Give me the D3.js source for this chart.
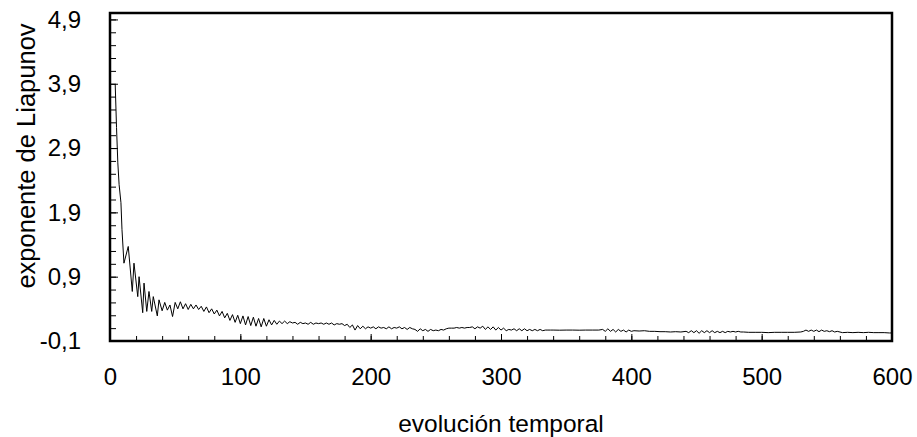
<!DOCTYPE HTML>
<html>
	<head>
		<title>Exponente de Liapunov</title>
		<script src="https://d3js.org/d3.v7.min.js"></script>
		<style>
			body { margin: 0; background: #fff; }
			svg { display: block; }
			text { font-family: "Liberation Sans", Arial, sans-serif; fill: #000; }
		</style>
	</head>
	<body>
		<svg id="viz" width="917" height="437"></svg>
		<script>
			// tick labels
			const xMajor = [0, 100, 200, 300, 400, 500, 600]
			const yMajor = [-0.1, 0.9, 1.9, 2.9, 3.9, 4.9]

			// [evolución temporal, exponente]
			const lyapunov = [
				[4, 3.89], [5, 3.22], [6, 2.67], [7, 2.33], [8.4, 2.05], [9.2, 1.63], [10.7, 1.11], [14, 1.37],
				[17.1, 0.67], [18.4, 1.11], [21.3, 0.59], [22.3, 0.9], [25.1, 0.34], [26.1, 0.8], [28.2, 0.36],
				[29.9, 0.67], [32, 0.36], [33.2, 0.59], [36.3, 0.29], [37.6, 0.54],
				[40,0.37],[42,0.5],[44,0.38],[46,0.46],[48,0.28],[50,0.5],[52,0.4],[54,0.51],[56,0.4],[58,0.48],
				[60,0.39],[62,0.47],[64,0.4],[66,0.46],[68,0.39],[70,0.44],[72,0.36],[74,0.43],[76,0.34],[78,0.4],
				[80,0.32],[82,0.38],[84,0.29],[86,0.36],[88,0.26],[90,0.33],[92,0.22],[94,0.31],[96,0.19],[98,0.3],
				[100,0.17],[102,0.29],[104,0.15],[106,0.28],[108,0.14],[110,0.27],[112,0.13],[114,0.25],[116,0.12],[118,0.25],
				[120,0.13],[122,0.23],[124,0.15],[126,0.22],[128,0.16],[130,0.21],[132,0.17],[134,0.21],[136,0.17],[138,0.2],
				[140,0.18],[142,0.19],[144,0.16],[146,0.19],[148,0.17],[150,0.18],[152,0.16],[154,0.19],[156,0.16],[158,0.18],
				[160,0.17],[162,0.18],[164,0.16],[166,0.18],[168,0.16],[170,0.18],[172,0.15],[174,0.17],[176,0.16],[178,0.17],
				[180,0.14],[182,0.16],[184,0.11],[186,0.15],[188,0.07],[190,0.14],[192,0.09],[194,0.13],[196,0.09],[198,0.12],
				[200,0.1],[202,0.12],[204,0.09],[206,0.12],[208,0.1],[210,0.11],[212,0.09],[214,0.12],[216,0.09],[218,0.11],
				[220,0.1],[222,0.12],[224,0.09],[226,0.11],[228,0.08],[230,0.11],[232,0.09],[234,0.08],[236,0.05],[238,0.09],
				[240,0.06],[242,0.08],[244,0.05],[246,0.08],[248,0.06],[250,0.07],[252,0.06],[254,0.08],[256,0.07],[258,0.09],
				[260,0.1],[262,0.1],[264,0.1],[266,0.11],[268,0.1],[270,0.11],[272,0.1],[274,0.11],[276,0.11],[278,0.12],
				[280,0.09],[282,0.12],[284,0.1],[286,0.13],[288,0.08],[290,0.12],[292,0.08],[294,0.12],[296,0.07],[298,0.11],
				[300,0.07],[302,0.1],[304,0.06],[306,0.08],[308,0.07],[310,0.09],[312,0.06],[314,0.09],[316,0.06],[318,0.09],
				[320,0.06],[322,0.08],[324,0.06],[326,0.08],[328,0.06],[330,0.08],[332,0.06],[334,0.07],[336,0.07],[338,0.07],
				[340,0.07],[345,0.068],[350,0.07],[355,0.07],[360,0.068],[365,0.07],[370,0.07],[375,0.07],
				[378,0.08],[380,0.05],[382,0.09],[384,0.05],[386,0.08],[388,0.04],[390,0.08],[392,0.05],[394,0.07],[396,0.04],[398,0.07],
				[400,0.05],[402,0.06],[406,0.055],[410,0.06],[414,0.05],[418,0.05],[422,0.045],[426,0.045],[430,0.04],[434,0.045],[438,0.04],[442,0.05],
				[444,0.03],[446,0.06],[448,0.03],[450,0.06],[452,0.02],[454,0.06],[456,0.03],[458,0.06],[460,0.03],[462,0.06],[464,0.03],
				[466,0.05],[468,0.03],[470,0.05],[472,0.03],[474,0.05],[476,0.04],[478,0.05],[480,0.04],[482,0.05],[484,0.04],[486,0.04],
				[490,0.035],[495,0.035],[500,0.035],[505,0.03],[510,0.035],[515,0.035],[520,0.035],[525,0.035],[530,0.04],
				[532,0.05],[534,0.07],[536,0.05],[538,0.07],[540,0.05],[542,0.07],[544,0.045],[546,0.07],[548,0.05],[550,0.06],
				[552,0.045],[554,0.06],[556,0.04],[558,0.05],
				[562,0.03],[566,0.035],[570,0.03],[574,0.035],[578,0.03],[582,0.035],[586,0.03],[590,0.03],[594,0.03],[598,0.025],[600,0.025]
			]

			const margin = {top: 13, right: 25, bottom: 96, left: 110}
			const width = 917 - margin.left - margin.right
			const height = 437 - margin.top - margin.bottom

			const svg = d3.select("#viz")
			const g = svg.append("g").attr("transform", `translate(${margin.left},${margin.top})`)

			const x = d3.scaleLinear().domain([0, 600]).range([0, width])
			const y = d3.scaleLinear().domain([-0.1, 5.0]).range([height, 0])

			const comma = v => v.toFixed(1).replace(".", ",")

			// minor ticks (inward, no labels)
			g.append("g")
				.attr("transform", `translate(0,${height})`)
				.call(d3.axisBottom(x).tickValues(d3.range(0, 601, 20)).tickSizeInner(-5).tickSizeOuter(0).tickFormat(""))
			g.append("g")
				.call(d3.axisLeft(y).tickValues(d3.range(-0.1, 4.95, 0.2)).tickSizeInner(-6).tickSizeOuter(0).tickFormat(""))

			// major ticks + labels
			g.append("g")
				.attr("transform", `translate(0,${height})`)
				.call(d3.axisBottom(x).tickValues(xMajor).tickSizeInner(-7).tickSizeOuter(0).tickPadding(27))
			g.append("g")
				.call(d3.axisLeft(y).tickValues(yMajor).tickFormat(comma).tickSizeInner(-8).tickSizeOuter(0).tickPadding(29))

			g.selectAll(".domain").remove()
			g.selectAll(".tick line").attr("stroke", "#000").attr("stroke-width", 1)
			g.selectAll(".tick text").attr("font-size", 24).attr("font-family", null)

			// curve
			const line = d3.line().x(d => x(d[0])).y(d => y(d[1]))
			g.append("path")
				.datum(lyapunov)
				.attr("d", line)
				.attr("fill", "none")
				.attr("stroke", "#000")
				.attr("stroke-width", 1)

			// frame
			g.append("rect")
				.attr("width", width).attr("height", height)
				.attr("fill", "none").attr("stroke", "#000").attr("stroke-width", 2.5)

			// axis titles
			svg.append("text")
				.attr("x", margin.left + width / 2)
				.attr("y", 432)
				.attr("text-anchor", "middle")
				.attr("font-size", 24.5)
				.text("evolución temporal")
			svg.append("text")
				.attr("transform", "translate(35,156) rotate(-90)")
				.attr("text-anchor", "middle")
				.attr("font-size", 25.5)
				.text("exponente de Liapunov")
		</script>
	</body>
</html>
